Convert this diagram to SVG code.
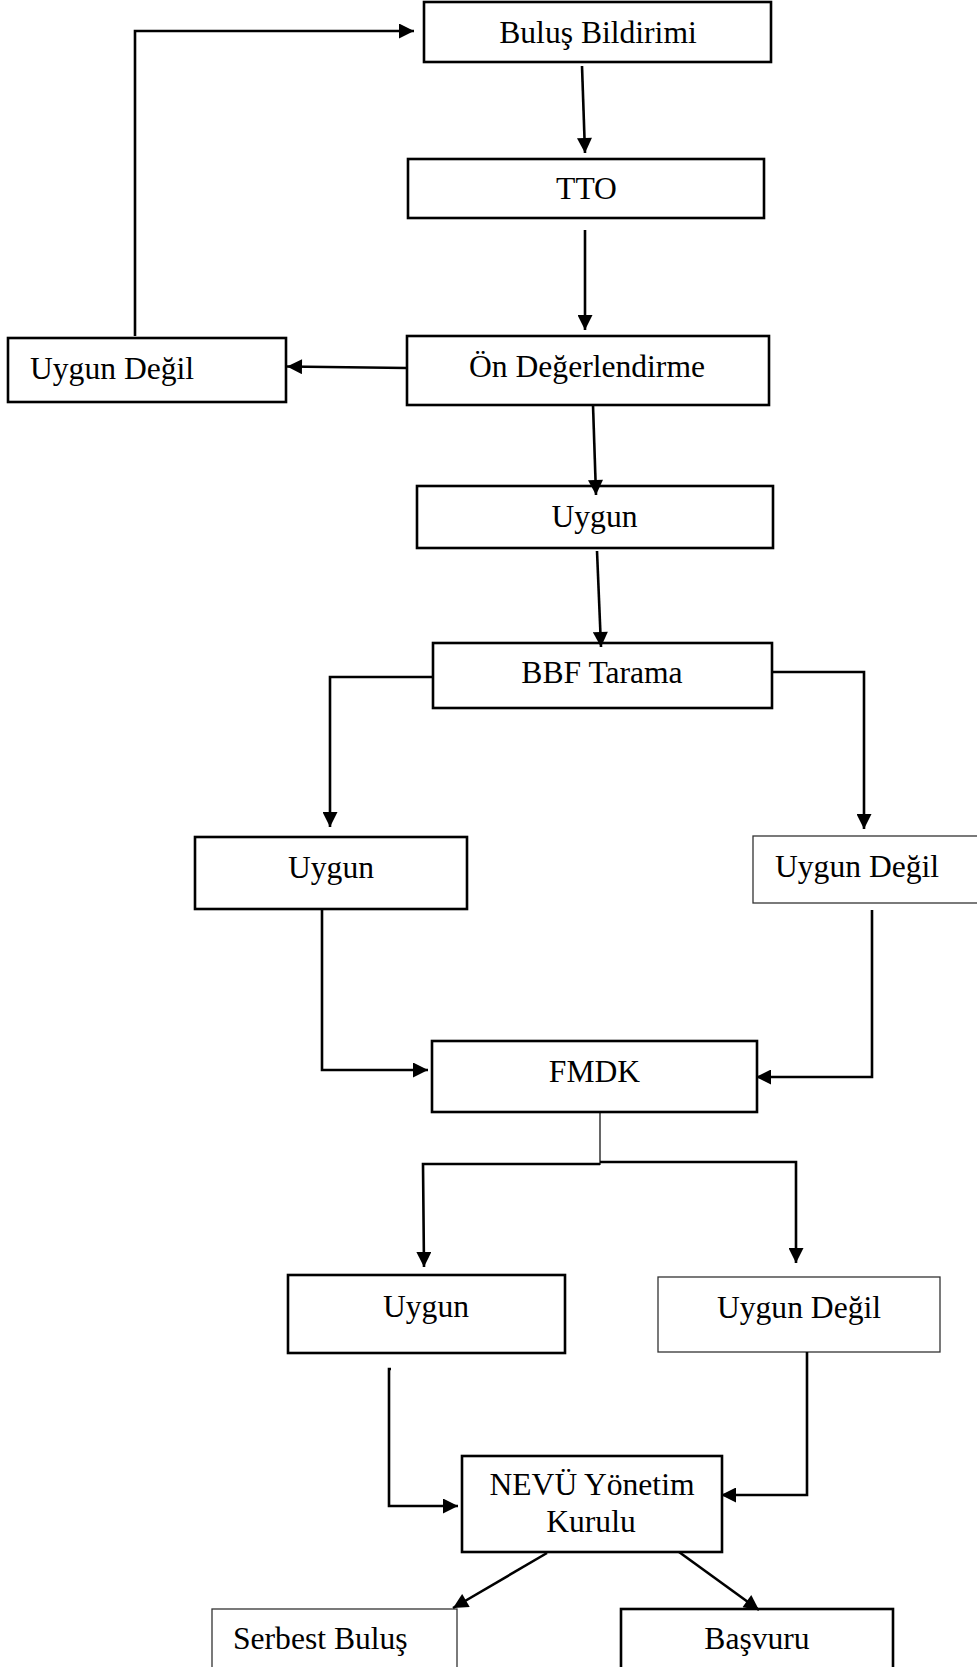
<svg xmlns="http://www.w3.org/2000/svg" width="977" height="1667" viewBox="0 0 977 1667">
<style>
  .box { fill: #ffffff; stroke: #000000; stroke-width: 2.6; }
  .thin { fill: #ffffff; stroke: #333333; stroke-width: 1.3; }
  .lbl { font-family: "Liberation Serif", "Times New Roman", serif; font-size: 31.6px; fill: #000000; }
  .c { text-anchor: middle; }
  .conn { fill: none; stroke: #000000; stroke-width: 2.6; }
  .hair { fill: none; stroke: #000000; stroke-width: 1.2; }
</style>
<defs>
  <marker id="ah" viewBox="0 0 10 10" refX="10" refY="5" markerWidth="16" markerHeight="15" markerUnits="userSpaceOnUse" orient="auto">
    <path d="M0,0 L10,5 L0,10 z" fill="#000000"/>
  </marker>
</defs>
<rect width="977" height="1667" fill="#ffffff"/>

<g id="nodes">
  <g id="n-bulus">
    <rect class="box" x="424" y="2" width="347" height="60"/>
    <text class="lbl c" x="598" y="43">Buluş Bildirimi</text>
  </g>
  <g id="n-tto">
    <rect class="box" x="408" y="159" width="356" height="59"/>
    <text class="lbl c" x="586.5" y="199">TTO</text>
  </g>
  <g id="n-uygundegil1">
    <rect class="box" x="8" y="338" width="278" height="64"/>
    <text class="lbl" x="30" y="379">Uygun Değil</text>
  </g>
  <g id="n-on">
    <rect class="box" x="407" y="336" width="362" height="69"/>
    <text class="lbl c" x="587" y="377">Ön Değerlendirme</text>
  </g>
  <g id="n-uygun1">
    <rect class="box" x="417" y="486" width="356" height="62"/>
    <text class="lbl c" x="594.5" y="527">Uygun</text>
  </g>
  <g id="n-bbf">
    <rect class="box" x="433" y="643" width="339" height="65"/>
    <text class="lbl c" x="602" y="683">BBF Tarama</text>
  </g>
  <g id="n-uygun2">
    <rect class="box" x="195" y="837" width="272" height="72"/>
    <text class="lbl c" x="331" y="878">Uygun</text>
  </g>
  <g id="n-uygundegil2">
    <rect class="thin" x="753" y="836" width="230" height="67"/>
    <text class="lbl" x="775" y="877">Uygun Değil</text>
  </g>
  <g id="n-fmdk">
    <rect class="box" x="432" y="1041" width="325" height="71"/>
    <text class="lbl c" x="594.5" y="1082">FMDK</text>
  </g>
  <g id="n-uygun3">
    <rect class="box" x="288" y="1275" width="277" height="78"/>
    <text class="lbl c" x="426" y="1317">Uygun</text>
  </g>
  <g id="n-uygundegil3">
    <rect class="thin" x="658" y="1277" width="282" height="75"/>
    <text class="lbl c" x="799" y="1318">Uygun Değil</text>
  </g>
  <g id="n-nevu">
    <rect class="box" x="462" y="1456" width="260" height="96"/>
    <text class="lbl c" x="592" y="1495">NEVÜ Yönetim</text>
    <text class="lbl c" x="591" y="1532">Kurulu</text>
  </g>
  <g id="n-serbest">
    <rect class="thin" x="212" y="1609" width="245" height="80"/>
    <text class="lbl" x="233" y="1649">Serbest Buluş</text>
  </g>
  <g id="n-basvuru">
    <rect class="box" x="621" y="1609" width="272" height="80"/>
    <text class="lbl c" x="757" y="1649">Başvuru</text>
  </g>
</g>

<g id="connectors">
  <polyline class="conn" points="135,336 135,31 414,31" marker-end="url(#ah)"/>
  <line class="conn" x1="582" y1="66" x2="585" y2="153" marker-end="url(#ah)"/>
  <line class="conn" x1="585" y1="230" x2="585" y2="330" marker-end="url(#ah)"/>
  <line class="conn" x1="407" y1="368" x2="287" y2="366.5" marker-end="url(#ah)"/>
  <line class="conn" x1="593" y1="405" x2="596" y2="495" marker-end="url(#ah)"/>
  <line class="conn" x1="597" y1="551" x2="601" y2="647" marker-end="url(#ah)"/>
  <polyline class="conn" points="433,677 330,677 330,827" marker-end="url(#ah)"/>
  <polyline class="conn" points="772,672 864,672 864,829" marker-end="url(#ah)"/>
  <polyline class="conn" points="322,909 322,1070 428,1070" marker-end="url(#ah)"/>
  <polyline class="conn" points="872,910 872,1077 756,1077" marker-end="url(#ah)"/>
  <line class="hair" x1="600" y1="1112" x2="600" y2="1165"/>
  <polyline class="conn" points="600,1164 423,1164 424,1267" marker-end="url(#ah)"/>
  <polyline class="conn" points="600,1162 796,1162 796,1263" marker-end="url(#ah)"/>
  <polyline class="conn" points="391,1369 389,1369 389,1506 458,1506" marker-end="url(#ah)"/>
  <polyline class="conn" points="807,1352 807,1495 721,1495" marker-end="url(#ah)"/>
  <line class="conn" x1="547" y1="1553" x2="453" y2="1608" marker-end="url(#ah)"/>
  <line class="conn" x1="679" y1="1552" x2="759" y2="1610" marker-end="url(#ah)"/>
</g>
</svg>
